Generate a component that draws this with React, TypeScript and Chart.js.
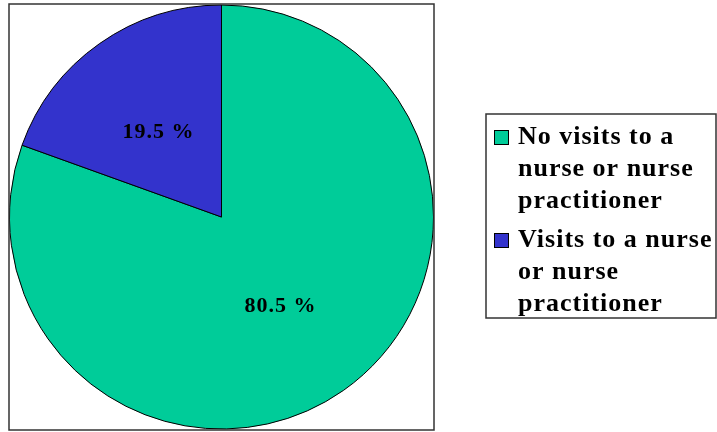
import React, { useEffect, useRef } from "react";
import { Chart, registerables } from "chart.js";

Chart.register(...registerables);

const categories = [
  "No visits to a nurse or nurse practitioner",
  "Visits to a nurse or nurse practitioner",
];
const legendLines = [
  ["No visits to a", "nurse or nurse", "practitioner"],
  ["Visits to a nurse", "or nurse", "practitioner"],
];
const values = [80.5, 19.5];
const colors = ["#00CC99", "#3333CC"];

const FONT = '"Liberation Serif", "Times New Roman", serif';

const overlayPlugin = {
  id: "overlay",
  afterDraw(chart: any) {
    const ctx = chart.ctx as CanvasRenderingContext2D;
    ctx.save();
    // plot box
    ctx.strokeStyle = "#333";
    ctx.lineWidth = 1.5;
    ctx.strokeRect(9, 4, 425, 426);

    // slice labels
    const meta = chart.getDatasetMeta(0);
    ctx.fillStyle = "#000";
    ctx.font = `bold 22px ${FONT}`;
    (ctx as any).letterSpacing = "1px";
    ctx.textAlign = "center";
    ctx.textBaseline = "alphabetic";
    meta.data.forEach((arc: any, i: number) => {
      const p = arc.getCenterPoint();
      ctx.fillText(values[i].toFixed(1) + " %", p.x - 2, p.y + 8);
    });

    // legend box
    ctx.strokeStyle = "#333";
    ctx.lineWidth = 1.5;
    ctx.strokeRect(486, 114, 230, 204);
    ctx.textAlign = "left";
    (ctx as any).letterSpacing = "1px";
    ctx.font = `bold 26px ${FONT}`;
    const baseYs = [144, 247];
    legendLines.forEach((lines, i) => {
      const y0 = baseYs[i];
      ctx.fillStyle = colors[i];
      ctx.fillRect(494, y0 - 14, 15, 15);
      ctx.strokeStyle = "#000";
      ctx.lineWidth = 1;
      ctx.strokeRect(494.5, y0 - 13.5, 14, 14);
      ctx.fillStyle = "#000";
      lines.forEach((ln, j) => {
        ctx.fillText(ln, 518, y0 + j * 32);
      });
    });
    ctx.restore();
  },
};

export default function App() {
  const ref = useRef<HTMLCanvasElement>(null);
  useEffect(() => {
    if (!ref.current) return;
    const chart = new Chart(ref.current, {
      type: "pie",
      data: {
        labels: categories,
        datasets: [
          {
            data: values,
            backgroundColor: colors,
            borderColor: "#000",
            borderWidth: 1,
          },
        ],
      },
      options: {
        responsive: false,
        animation: false,
        layout: { padding: { left: 9, top: 4, right: 283, bottom: 2 } },
        plugins: {
          legend: { display: false },
          tooltip: { enabled: false },
        },
      },
      plugins: [overlayPlugin],
    });
    return () => chart.destroy();
  }, []);
  return (
    <div style={{ position: "fixed", left: 0, top: 0, width: 717, height: 432, background: "#fff" }}>
      <canvas ref={ref} width={717} height={432} />
    </div>
  );
}
